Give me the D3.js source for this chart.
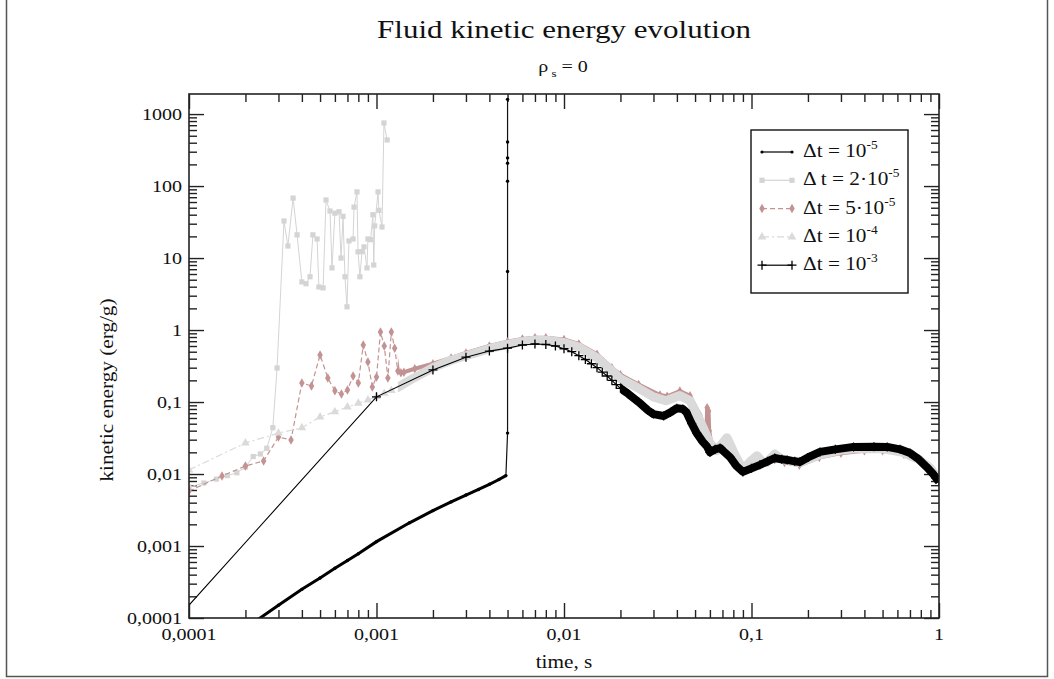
<!DOCTYPE html>
<html><head><meta charset="utf-8">
<script src="https://cdn.jsdelivr.net/npm/d3@7"></script>
<style>
body{margin:0;background:#fff}
svg{display:block}
text{font-family:"Liberation Serif","Times New Roman",serif;fill:#111}
</style>
</head><body>
<svg id="chart" width="1054" height="679"></svg>
<script>
// ---------- tick labels ----------
const xTickValues = [0.0001, 0.001, 0.01, 0.1, 1];
const xTickLabels = ["0,0001", "0,001", "0,01", "0,1", "1"];
const yTickValues = [0.0001, 0.001, 0.01, 0.1, 1, 10, 100, 1000];
const yTickLabels = ["0,0001", "0,001", "0,01", "0,1", "1", "10", "100", "1000"];

// ---------- series: Δt = 1e-5 ----------
const s1Time   = [0.00023, 0.0003, 0.0004, 0.0005, 0.0006, 0.0007, 0.0008, 0.001, 0.0015, 0.002, 0.0025, 0.003, 0.0035, 0.004, 0.0045, 0.0049,
                  0.005, 0.005, 0.005, 0.005, 0.005, 0.005, 0.005];
const s1Energy = [0.000093, 0.00015, 0.00025, 0.00036, 0.00049, 0.00063, 0.00078, 0.00115, 0.0021, 0.0031, 0.0041, 0.0051, 0.0061, 0.0072, 0.0084, 0.0095,
                  0.037, 6.5, 117, 208, 410, 246, 1600];

// ---------- series: Δt = 2e-5 ----------
const s2Time   = [1.0e-4, 1.2e-4, 1.4e-4, 1.6e-4, 1.8e-4, 2.0e-4, 2.2e-4, 2.4e-4, 2.6e-4, 2.8e-4, 2.95e-4, 3.21e-4, 3.37e-4, 3.59e-4, 3.77e-4,
                  4.0e-4, 4.21e-4, 4.42e-4, 4.58e-4, 4.82e-4, 4.93e-4, 5.19e-4, 5.38e-4, 5.65e-4, 5.79e-4, 6.0e-4, 6.31e-4, 6.47e-4, 6.63e-4,
                  6.79e-4, 6.96e-4, 7.13e-4, 7.5e-4, 7.59e-4, 7.87e-4, 7.97e-4, 8.16e-4, 8.37e-4, 8.58e-4, 8.9e-4, 9.0e-4, 9.3e-4, 9.57e-4,
                  9.67e-4, 9.78e-4, 1.019e-3, 1.03e-3, 1.07e-3, 1.096e-3, 1.14e-3];
const s2Energy = [0.0066, 0.0075, 0.0085, 0.0095, 0.0104, 0.0125, 0.0175, 0.019, 0.0228, 0.044, 0.297, 32.7, 14.7, 68, 21,
                  4.66, 4.4, 5.5, 21, 18.4, 3.96, 3.85, 64, 45, 7.3, 42, 44, 10, 38,
                  5.5, 2.1, 17.3, 18.4, 51, 83, 12.2, 5.5, 12.3, 14.3, 7.3, 18.4, 18, 40,
                  8.0, 28, 83, 46, 27, 752, 437];

// ---------- series: Δt = 5e-5 ----------
const s3Time   = [1.0e-4, 1.5e-4, 2.0e-4, 2.5e-4, 3.0e-4, 3.5e-4, 4.0e-4, 4.5e-4, 5.0e-4, 5.5e-4, 6.0e-4, 6.5e-4, 7.0e-4, 7.5e-4, 8.0e-4,
                  8.5e-4, 9.0e-4, 9.5e-4, 1.0e-3, 1.05e-3, 1.1e-3, 1.15e-3, 1.2e-3, 1.25e-3, 1.3e-3, 1.35e-3, 1.4e-3, 1.6e-3,
                  0.002, 0.0025, 0.003, 0.004, 0.005, 0.006, 0.007, 0.008, 0.01, 0.012, 0.015, 0.018, 0.02, 0.025, 0.0325, 0.0355,
                  0.0415, 0.047, 0.053, 0.056, 0.0575, 0.058, 0.0585, 0.059, 0.0595, 0.061, 0.065, 0.072, 0.08, 0.09, 0.1, 0.11, 0.12,
                  0.133, 0.15, 0.18, 0.23, 0.3, 0.4, 0.5, 0.65, 0.8, 0.9, 1.0];
const s3Energy = [0.0058, 0.0094, 0.0129, 0.0152, 0.0327, 0.0297, 0.184, 0.167, 0.45, 0.216, 0.143, 0.129, 0.147, 0.23, 0.184,
                  0.62, 0.36, 0.162, 0.223, 0.94, 0.60, 0.216, 0.94, 0.56, 0.27, 0.255, 0.26, 0.29,
                  0.34, 0.41, 0.48, 0.6, 0.69, 0.75, 0.78, 0.78, 0.74, 0.64, 0.46, 0.3, 0.24, 0.175, 0.125, 0.12,
                  0.142, 0.122, 0.066, 0.042, 0.036, 0.083, 0.06, 0.075, 0.04, 0.027, 0.022, 0.021, 0.016, 0.011, 0.012, 0.0135, 0.0145,
                  0.0158, 0.0145, 0.0132, 0.017, 0.0195, 0.021, 0.021, 0.0188, 0.015, 0.012, 0.0082];

// ---------- series: Δt = 1e-4 ----------
const s4Time   = [1e-4, 2e-4, 3e-4, 4e-4, 5e-4, 6e-4, 7e-4, 8e-4, 9e-4, 1e-3, 1.1e-3, 1.2e-3, 1.3e-3, 1.5e-3, 2e-3, 2.5e-3, 3e-3,
                  4e-3, 5e-3, 6e-3, 7e-3, 8e-3, 0.01, 0.012, 0.015, 0.018, 0.02, 0.025, 0.03, 0.035, 0.0415, 0.047, 0.053, 0.06,
                  0.065, 0.074, 0.082, 0.09, 0.1, 0.107, 0.115, 0.121, 0.133, 0.145, 0.16, 0.18, 0.23, 0.3, 0.35, 0.5, 0.64,
                  0.78, 0.9, 1.0];
const s4Energy = [0.0114, 0.027, 0.037, 0.044, 0.062, 0.073, 0.0855, 0.096, 0.107, 0.118, 0.132, 0.145, 0.16, 0.2, 0.3, 0.38, 0.44,
                  0.55, 0.63, 0.69, 0.72, 0.72, 0.67, 0.58, 0.41, 0.27, 0.21, 0.155, 0.118, 0.104, 0.123, 0.104, 0.056, 0.027,
                  0.021, 0.032, 0.018, 0.0115, 0.0155, 0.018, 0.0145, 0.0145, 0.019, 0.016, 0.0152, 0.0143, 0.0185, 0.0215, 0.0225, 0.0225, 0.02,
                  0.016, 0.012, 0.0082];

// ---------- series: Δt = 1e-3 ----------
const s5Time   = [0.00008, 0.001, 0.002, 0.003, 0.004, 0.005, 0.006, 0.007, 0.008, 0.009, 0.01, 0.011, 0.012, 0.013, 0.014, 0.015,
                  0.016, 0.017, 0.018, 0.019, 0.02, 0.022, 0.025, 0.028, 0.03, 0.034, 0.037, 0.04, 0.043, 0.045, 0.048, 0.051,
                  0.055, 0.058, 0.06, 0.064, 0.068, 0.072, 0.077, 0.083, 0.09, 0.1, 0.111, 0.122, 0.133, 0.145, 0.155, 0.17,
                  0.181, 0.2, 0.232, 0.28, 0.35, 0.45, 0.53, 0.62, 0.7, 0.78, 0.86, 0.93, 1.0];
const s5Energy = [0.000079, 0.118, 0.279, 0.42, 0.51, 0.56, 0.62, 0.64, 0.63, 0.6, 0.55, 0.5, 0.44, 0.39, 0.34, 0.3,
                  0.26, 0.23, 0.2, 0.175, 0.155, 0.13, 0.1, 0.077, 0.068, 0.064, 0.072, 0.082, 0.08, 0.072, 0.05, 0.037,
                  0.028, 0.024, 0.02, 0.022, 0.023, 0.02, 0.017, 0.013, 0.0107, 0.012, 0.0134, 0.015, 0.0167, 0.016, 0.0157, 0.015,
                  0.0147, 0.017, 0.0203, 0.022, 0.0238, 0.024, 0.0238, 0.022, 0.0196, 0.016, 0.0125, 0.01, 0.0078];

// ---------- legend ----------
const legendMain = ["\u0394t = 10", "\u0394 t = 2\u00b710", "\u0394t = 5\u00b710", "\u0394t = 10", "\u0394t = 10"];
const legendExp  = ["-5", "-5", "-5", "-4", "-3"];

const titleText = "Fluid kinetic energy evolution";
const xLabel = "time, s";
const yLabel = "kinetic energy (erg/g)";

// ================= drawing =================
const svg = d3.select("#chart");
const X0 = 189, X1 = 939, Y0 = 94, Y1 = 618;
const x = d3.scaleLog().domain([1e-4, 1]).range([X0, X1]);
const y = d3.scaleLog().domain([1e-4, 1900]).range([Y1, Y0]);

const PINK = "#c39292", GRAY2 = "#d4d4d4", GRAY4 = "#dadada";

// page frame
svg.append("rect").attr("x", 6.5).attr("y", -2).attr("width", 1041).attr("height", 678.5)
  .attr("fill", "none").attr("stroke", "#555").attr("stroke-width", 1.5);

const defs = svg.append("defs");
defs.append("clipPath").attr("id", "plotClip").append("rect")
  .attr("x", X0).attr("y", Y0).attr("width", X1 - X0).attr("height", Y1 - Y0);
defs.append("clipPath").attr("id", "grayDense").append("rect")
  .attr("x", x(0.0013)).attr("y", Y0).attr("width", X1 - x(0.0013)).attr("height", Y1 - Y0);
defs.append("clipPath").attr("id", "grayEarly").append("rect")
  .attr("x", X0).attr("y", Y0).attr("width", x(0.0013) - X0).attr("height", Y1 - Y0);
defs.append("clipPath").attr("id", "blackDense").append("rect")
  .attr("x", x(0.02)).attr("y", Y0).attr("width", X1 - x(0.02)).attr("height", Y1 - Y0);

function txt(g, tx, ty, str, size, anchor, sx) {
  return g.append("text").attr("transform", `translate(${tx},${ty}) scale(${sx},1)`)
    .attr("font-size", size).attr("text-anchor", anchor).text(str);
}

// title
txt(svg, 564, 38, titleText, 25, "middle", 1.24);
const sub = svg.append("text").attr("transform", "translate(563,72) scale(1.18,1)")
  .attr("font-size", 17).attr("text-anchor", "middle");
sub.append("tspan").text("\u03c1");
sub.append("tspan").attr("font-size", 11).attr("dy", 5).text(" s");
sub.append("tspan").attr("dy", -5).text(" = 0");

// axes (ticks inward on all sides)
const minorX = [], minorY = [];
[1e-4, 1e-3, 1e-2, 1e-1].forEach(d => { for (let k = 2; k <= 9; k++) minorX.push(d * k); });
[1e-4, 1e-3, 1e-2, 1e-1, 1, 10, 100, 1000].forEach(d => { for (let k = 2; k <= 9; k++) if (d * k < 1900) minorY.push(d * k); });

function axisG(axis, tx, ty) {
  const g = svg.append("g").attr("transform", `translate(${tx},${ty})`).call(axis);
  g.select(".domain").remove();
  g.selectAll(".tick line").attr("stroke", "#222").attr("stroke-width", 1.4);
  g.selectAll("text").remove();
  return g;
}
axisG(d3.axisBottom(x).tickValues(xTickValues).tickSize(-15).tickFormat(""), 0, Y1);
axisG(d3.axisBottom(x).tickValues(minorX).tickSize(-8).tickFormat(""), 0, Y1);
axisG(d3.axisTop(x).tickValues(xTickValues).tickSize(-15).tickFormat(""), 0, Y0);
axisG(d3.axisTop(x).tickValues(minorX).tickSize(-8).tickFormat(""), 0, Y0);
axisG(d3.axisLeft(y).tickValues(yTickValues).tickSize(-15).tickFormat(""), X0, 0);
axisG(d3.axisLeft(y).tickValues(minorY).tickSize(-8).tickFormat(""), X0, 0);
axisG(d3.axisRight(y).tickValues(yTickValues).tickSize(-15).tickFormat(""), X1, 0);
axisG(d3.axisRight(y).tickValues(minorY).tickSize(-8).tickFormat(""), X1, 0);

// tick labels
xTickValues.forEach((v, i) => txt(svg, x(v), 640, xTickLabels[i], 17, "middle", 1.18));
yTickValues.forEach((v, i) => txt(svg, 182, y(v) + 6, yTickLabels[i], 17, "end", 1.18));

// axis titles
txt(svg, 564, 668, xLabel, 18, "middle", 1.18);
svg.append("text").attr("transform", `translate(113,390) rotate(-90) scale(1.18,1)`)
  .attr("font-size", 18).attr("text-anchor", "middle").text(yLabel);

// data layer
const plot = svg.append("g").attr("clip-path", "url(#plotClip)");
const zip = (t, e) => t.map((d, i) => [d, e[i]]);
const line = d3.line().x(d => x(d[0])).y(d => y(d[1]));

const d1 = zip(s1Time, s1Energy), d2 = zip(s2Time, s2Energy), d3s = zip(s3Time, s3Energy),
      d4 = zip(s4Time, s4Energy), d5 = zip(s5Time, s5Energy);

const sym = (type, size) => d3.symbol().type(type).size(size)();
const plusPath = "M-4.5,0H4.5M0,-4.5V4.5";

// series 1 (Δt=1e-5)
plot.append("path").attr("d", line(d1)).attr("fill", "none").attr("stroke", "#111").attr("stroke-width", 1.2);
plot.append("path").attr("d", line(d1.filter(d => d[0] < 0.00495))).attr("fill", "none")
  .attr("stroke", "#000").attr("stroke-width", 3);
plot.selectAll(".m1").data(d1).join("circle").attr("cx", d => x(d[0])).attr("cy", d => y(d[1]))
  .attr("r", 1.7).attr("fill", "#000");

// series 2 (Δt=2e-5)
plot.append("path").attr("d", line(d2)).attr("fill", "none").attr("stroke", GRAY2).attr("stroke-width", 1);
plot.selectAll(".m2").data(d2).join("rect").attr("x", d => x(d[0]) - 2.6).attr("y", d => y(d[1]) - 2.6)
  .attr("width", 5.2).attr("height", 5.2).attr("fill", GRAY2);

// series 3 (Δt=5e-5)
const g3 = plot.append("g");
g3.append("path").attr("d", line(d3s)).attr("fill", "none").attr("stroke", PINK).attr("stroke-width", 1.2)
  .attr("stroke-dasharray", "5,3").attr("clip-path", "url(#grayEarly)");
g3.append("path").attr("d", line(d3s)).attr("fill", "none").attr("stroke", PINK).attr("stroke-width", 4)
  .attr("stroke-linejoin", "round").attr("clip-path", "url(#grayDense)");
g3.selectAll(".m3").data(d3s).join("path").attr("d", sym(d3.symbolDiamond, 26))
  .attr("transform", d => `translate(${x(d[0])},${y(d[1])})`).attr("fill", PINK);

// series 4 (Δt=1e-4)
const g4 = plot.append("g");
g4.append("path").attr("d", line(d4)).attr("fill", "none").attr("stroke", GRAY4).attr("stroke-width", 1.2)
  .attr("stroke-dasharray", "7,3,2,3").attr("clip-path", "url(#grayEarly)");
g4.append("path").attr("d", line(d4)).attr("fill", "none").attr("stroke", GRAY4).attr("stroke-width", 9)
  .attr("stroke-linejoin", "round").attr("clip-path", "url(#grayDense)");
g4.selectAll(".m4").data(d4.filter(d => d[0] < 0.0013)).join("path").attr("d", sym(d3.symbolTriangle, 32))
  .attr("transform", d => `translate(${x(d[0])},${y(d[1])})`).attr("fill", GRAY4);

// series 5 (Δt=1e-3)
const g5 = plot.append("g");
g5.append("path").attr("d", line(d5)).attr("fill", "none").attr("stroke", "#000").attr("stroke-width", 1.1);
g5.append("path").attr("d", line(d5)).attr("fill", "none").attr("stroke", "#000").attr("stroke-width", 8)
  .attr("stroke-linejoin", "round").attr("clip-path", "url(#blackDense)");
g5.selectAll(".m5").data(d5).join("path").attr("d", plusPath)
  .attr("transform", d => `translate(${x(d[0])},${y(d[1])})`).attr("stroke", "#000").attr("stroke-width", 1.3);

// frame of the plot
svg.append("rect").attr("x", X0).attr("y", Y0).attr("width", X1 - X0).attr("height", Y1 - Y0)
  .attr("fill", "none").attr("stroke", "#222").attr("stroke-width", 1.6);

// legend
const lg = svg.append("g");
lg.append("rect").attr("x", 751).attr("y", 130).attr("width", 157).attr("height", 163)
  .attr("fill", "#fff").attr("stroke", "#111").attr("stroke-width", 1.4);
const legStyles = [
  {stroke: "#000", dash: null, marker: "dot", color: "#000"},
  {stroke: GRAY2, dash: null, marker: "square", color: GRAY2},
  {stroke: PINK, dash: "5,3", marker: "diamond", color: PINK},
  {stroke: GRAY4, dash: "7,3,2,3", marker: "triangle", color: GRAY4},
  {stroke: "#000", dash: null, marker: "plus", color: "#000"}
];
legendMain.forEach((label, i) => {
  const ly = 152 + i * 28.3;
  const st = legStyles[i];
  lg.append("line").attr("x1", 762).attr("x2", 792).attr("y1", ly).attr("y2", ly)
    .attr("stroke", st.stroke).attr("stroke-width", 1.2).attr("stroke-dasharray", st.dash);
  [762, 792].forEach(mx => {
    if (st.marker === "dot") lg.append("circle").attr("cx", mx).attr("cy", ly).attr("r", 1.6).attr("fill", st.color);
    if (st.marker === "square") lg.append("rect").attr("x", mx - 2.6).attr("y", ly - 2.6).attr("width", 5.2).attr("height", 5.2).attr("fill", st.color);
    if (st.marker === "diamond") lg.append("path").attr("d", sym(d3.symbolDiamond, 26)).attr("transform", `translate(${mx},${ly})`).attr("fill", st.color);
    if (st.marker === "triangle") lg.append("path").attr("d", sym(d3.symbolTriangle, 32)).attr("transform", `translate(${mx},${ly})`).attr("fill", st.color);
    if (st.marker === "plus") lg.append("path").attr("d", plusPath).attr("transform", `translate(${mx},${ly})`).attr("stroke", st.color).attr("stroke-width", 1.3);
  });
  const t = lg.append("text").attr("transform", `translate(803,${ly + 5}) scale(1.12,1)`).attr("font-size", 19);
  t.append("tspan").text(label);
  t.append("tspan").attr("font-size", 12).attr("dy", -8).text(legendExp[i]);
});
</script>
</body></html>
